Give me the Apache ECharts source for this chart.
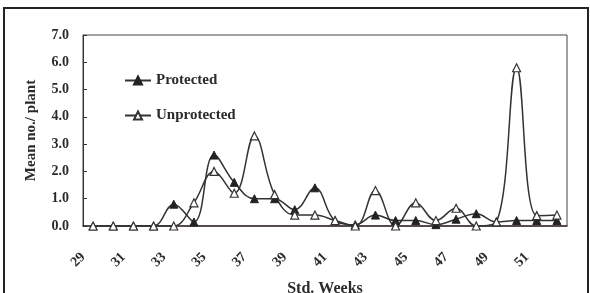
<!DOCTYPE html>
<html>
<head>
<meta charset="utf-8">
<script src="https://cdn.jsdelivr.net/npm/echarts@6/dist/echarts.min.js"></script>
<style>
  html, body { margin: 0; padding: 0; background: #fff; }
  #chart { width: 590px; height: 293px; }
</style>
</head>
<body>
<div id="chart"></div>
<script>
// std. weeks 29..52
var weeks = ['29', '30', '31', '32', '33', '34', '35', '36', '37', '38', '39', '40',
             '41', '42', '43', '44', '45', '46', '47', '48', '49', '50', '51', '52'];
var protectedVals = [0, 0, 0, 0, 0.8, 0.15, 2.6, 1.6, 1.0, 1.0, 0.6, 1.4,
                     0.2, 0.05, 0.4, 0.2, 0.2, 0.05, 0.25, 0.45, 0.15, 0.2, 0.2, 0.2];
var unprotectedVals = [0, 0, 0, 0, 0, 0.85, 2.0, 1.2, 3.3, 1.15, 0.4, 0.4,
                       0.2, 0, 1.3, 0, 0.85, 0.2, 0.65, 0, 0.15, 5.8, 0.38, 0.4];

var ink = '#2b2b2b';
var serif = '"Liberation Serif", "DejaVu Serif", serif';

var chart = echarts.init(document.getElementById('chart'));
chart.setOption({
    animation: false,
    backgroundColor: '#fff',
    graphic: [{
        type: 'rect',
        shape: { x: 4, y: 8, width: 584, height: 300 },
        style: { fill: 'none', stroke: '#222', lineWidth: 2 }
    }],
    grid: {
        left: 83,
        right: 23,
        top: 35,
        bottom: 67,
        outerBoundsMode: 'none',
        containLabel: false,
        show: true,
        borderColor: '#444',
        borderWidth: 1
    },
    legend: {
        orient: 'vertical',
        left: 119,
        top: 68,
        itemWidth: 26,
        itemHeight: 10,
        itemGap: 20,
        textStyle: { fontFamily: serif, fontWeight: 'bold', fontSize: 15, color: ink },
        data: ['Protected', 'Unprotected']
    },
    xAxis: {
        type: 'category',
        data: weeks,
        boundaryGap: true,
        name: 'Std. Weeks',
        nameLocation: 'middle',
        nameGap: 55,
        nameTextStyle: { fontFamily: serif, fontWeight: 'bold', fontSize: 16, color: ink },
        axisLine: { lineStyle: { color: '#3a2f33', width: 1.5 } },
        axisTick: { inside: true, length: 4, interval: 0, lineStyle: { color: '#333' } },
        axisLabel: {
            interval: 1,
            rotate: 45,
            margin: 19,
            padding: [0, 14, 0, 0],
            fontFamily: serif,
            fontWeight: 'bold',
            fontSize: 14,
            color: ink
        },
        splitLine: { show: false }
    },
    yAxis: {
        type: 'value',
        min: 0,
        max: 7,
        interval: 1,
        name: 'Mean no./ plant',
        nameLocation: 'middle',
        nameGap: 44,
        nameTextStyle: { fontFamily: serif, fontWeight: 'bold', fontSize: 15, color: ink },
        axisLine: { show: true, lineStyle: { color: '#333' } },
        axisTick: { show: true, inside: true, length: 4, lineStyle: { color: '#333' } },
        axisLabel: {
            margin: 14,
            fontFamily: serif,
            fontWeight: 'bold',
            fontSize: 14,
            color: ink,
            formatter: function (v) { return v.toFixed(1); }
        },
        splitLine: { show: false }
    },
    series: [
        {
            name: 'Protected',
            type: 'line',
            data: protectedVals,
            smooth: 0.4,
            symbol: 'triangle',
            symbolSize: 8,
            lineStyle: { color: '#333', width: 1.5 },
            itemStyle: { color: '#222', borderColor: '#222', borderWidth: 1 }
        },
        {
            name: 'Unprotected',
            type: 'line',
            data: unprotectedVals,
            smooth: 0.4,
            symbol: 'triangle',
            symbolSize: 8,
            lineStyle: { color: '#333', width: 1.5 },
            itemStyle: { color: '#fff', borderColor: '#333', borderWidth: 1.2 }
        }
    ]
});
</script>
</body>
</html>
